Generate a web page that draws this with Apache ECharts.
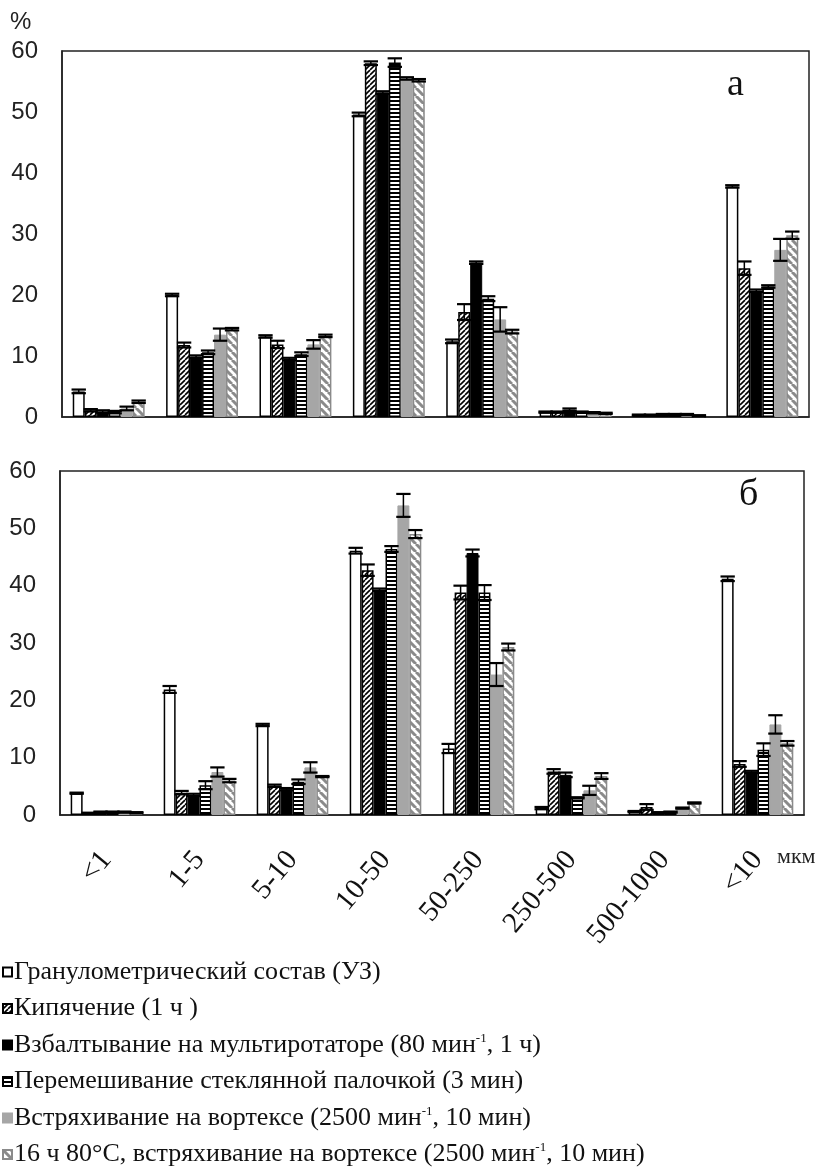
<!DOCTYPE html>
<html><head><meta charset="utf-8">
<script src="https://cdn.jsdelivr.net/npm/echarts@6/dist/echarts.min.js"></script>
<style>html,body{margin:0;padding:0;background:#fff}#c{width:823px;height:1176px}</style>
</head><body><div id="c"></div>
<script>
// ---------- data ----------
const categories = ['<1', '1-5', '5-10', '10-50', '50-250', '250-500', '500-1000', '<10'];
const seriesNames = [
  'Гранулометрический состав (УЗ)',
  'Кипячение (1 ч )',
  'Взбалтывание на мультиротаторе (80 мин⁻¹, 1 ч)',
  'Перемешивание стеклянной палочкой (3 мин)',
  'Встряхивание на вортексе (2500 мин⁻¹, 10 мин)',
  '16 ч 80°C, встряхивание на вортексе (2500 мин⁻¹, 10 мин)'
];
const yTicks = [0, 10, 20, 30, 40, 50, 60];

// panel а
const a1 = [4.2, 20.0, 13.2, 49.6, 12.4, 0.8, 0.3, 37.8];
const a2 = [1.1, 11.8, 11.9, 58.0, 17.2, 0.8, 0.3, 24.4];
const a3 = [0.9, 9.9, 9.5, 53.2, 25.3, 1.2, 0.4, 20.7];
const a4 = [0.8, 10.6, 10.3, 58.1, 19.4, 0.8, 0.4, 21.4];
const a5 = [1.4, 13.5, 11.9, 55.5, 16.0, 0.7, 0.4, 27.4];
const a6 = [2.5, 14.4, 13.3, 55.2, 14.0, 0.6, 0.2, 29.8];
const ea1 = [0.3, 0.2, 0.2, 0.3, 0.3, 0.1, 0.1, 0.2];
const ea2 = [0.2, 0.4, 0.6, 0.3, 1.3, 0.1, 0.1, 1.1];
const ea3 = [0.2, 0.2, 0.2, 0.2, 0.2, 0.2, 0.1, 0.2];
const ea4 = [0.2, 0.3, 0.3, 0.7, 0.4, 0.1, 0.1, 0.2];
const ea5 = [0.3, 1.0, 0.7, 0.2, 2.0, 0.1, 0.1, 1.8];
const ea6 = [0.2, 0.2, 0.2, 0.2, 0.3, 0.1, 0.1, 0.6];

// panel б
const b1 = [3.8, 21.9, 15.7, 46.1, 11.6, 1.2, 0.6, 41.2];
const b2 = [0.3, 3.9, 5.1, 42.7, 38.8, 7.6, 1.4, 8.9];
const b3 = [0.5, 3.5, 4.5, 39.3, 45.7, 7.0, 0.4, 7.5];
const b4 = [0.5, 5.2, 5.8, 46.4, 38.8, 3.0, 0.5, 11.4];
const b5 = [0.5, 7.5, 8.3, 54.0, 24.5, 4.3, 1.2, 15.8];
const b6 = [0.4, 6.0, 6.7, 49.0, 29.3, 6.8, 2.1, 12.5];
const eb1 = [0.1, 0.6, 0.2, 0.5, 0.8, 0.2, 0.1, 0.4];
const eb2 = [0.1, 0.3, 0.2, 1.0, 1.2, 0.4, 0.5, 0.5];
const eb3 = [0.1, 0.2, 0.2, 0.2, 0.6, 0.4, 0.1, 0.2];
const eb4 = [0.1, 0.7, 0.4, 0.5, 1.3, 0.1, 0.1, 1.1];
const eb5 = [0.1, 0.8, 0.9, 2.0, 2.0, 0.8, 0.1, 1.6];
const eb6 = [0.1, 0.3, 0.1, 0.7, 0.6, 0.5, 0.1, 0.4];

const panelAVals = [a1, a2, a3, a4, a5, a6];
const panelAErr = [ea1, ea2, ea3, ea4, ea5, ea6];
const panelBVals = [b1, b2, b3, b4, b5, b6];
const panelBErr = [eb1, eb2, eb3, eb4, eb5, eb6];

// ---------- patterns ----------
function diagPattern(size, color, lw, dir) {
  const c = document.createElement('canvas');
  c.width = size; c.height = size;
  const g = c.getContext('2d');
  g.fillStyle = '#fff'; g.fillRect(0, 0, size, size);
  g.strokeStyle = color; g.lineWidth = lw;
  for (let k = -1; k <= 1; k++) {
    g.beginPath();
    if (dir === '/') { g.moveTo(k * size, size); g.lineTo(k * size + size, 0); }
    else { g.moveTo(k * size, 0); g.lineTo(k * size + size, size); }
    g.stroke();
  }
  return { image: c, repeat: 'repeat' };
}
function hStripePattern() {
  const c = document.createElement('canvas');
  c.width = 4; c.height = 4;
  const g = c.getContext('2d');
  g.fillStyle = '#fff'; g.fillRect(0, 0, 4, 4);
  g.fillStyle = '#000'; g.fillRect(0, 0, 4, 2);
  return { image: c, repeat: 'repeat' };
}

const styles = [
  { color: '#ffffff', borderColor: '#000', borderWidth: 1.5 },
  { color: diagPattern(5, '#000', 1.6, '/'), borderColor: '#000', borderWidth: 1.5 },
  { color: '#000000', borderColor: '#000', borderWidth: 1 },
  { color: hStripePattern(), borderColor: '#000', borderWidth: 1.5 },
  { color: '#a6a6a6', borderColor: '#a6a6a6', borderWidth: 1 },
  { color: diagPattern(8, '#8a8a8a', 3, '\\'), borderColor: '#8a8a8a', borderWidth: 1.5 }
];

const CAT_GAP = 0.23;

function errRender(params, api) {
  const cat = api.value(0), si = api.value(1), v = api.value(2), e = api.value(3);
  const catW = api.size([1, 0])[0];
  const bw = catW * (1 - CAT_GAP) / 6;
  const cx = api.coord([cat, v])[0] + (si - 2.5) * bw;
  const yTop = api.coord([cat, v + e])[1];
  const yBot = api.coord([cat, Math.max(0, v - e)])[1];
  const half = bw * 0.6;
  const st = { stroke: '#000', lineWidth: 2.2 };
  return {
    type: 'group', children: [
      { type: 'line', shape: { x1: cx, y1: yTop, x2: cx, y2: yBot }, style: { stroke: '#000', lineWidth: 1.5 } },
      { type: 'line', shape: { x1: cx - half, y1: yTop, x2: cx + half, y2: yTop }, style: st },
      { type: 'line', shape: { x1: cx - half, y1: yBot, x2: cx + half, y2: yBot }, style: st }
    ]
  };
}

function errData(vals, errs) {
  const out = [];
  vals.forEach((arr, si) => arr.forEach((v, ci) => out.push([ci, si, v, errs[si][ci]])));
  return out;
}

const series = [];
[panelAVals, panelBVals].forEach((vals, pi) => {
  vals.forEach((arr, si) => {
    series.push({
      type: 'bar', name: seriesNames[si], xAxisIndex: pi, yAxisIndex: pi,
      data: arr, barGap: '0%', barCategoryGap: (CAT_GAP * 100) + '%',
      itemStyle: styles[si], silent: true, animation: false
    });
  });
  series.push({
    type: 'custom', xAxisIndex: pi, yAxisIndex: pi, renderItem: errRender,
    data: errData(vals, pi === 0 ? panelAErr : panelBErr),
    encode: { x: 0, y: 2 }, silent: true, animation: false, z: 5
  });
});

const yLabel = {
  fontFamily: 'Liberation Sans', fontSize: 24, color: '#222', margin: 24,
  formatter: v => (yTicks.indexOf(v) >= 0 ? String(v) : '')
};
function yAx(i) {
  return {
    gridIndex: i, type: 'value', min: 0, max: 60, interval: 10,
    splitLine: { show: false }, axisTick: { show: false },
    axisLine: { show: true, lineStyle: { color: '#222', width: 1.5 } },
    axisLabel: yLabel
  };
}

const chart = echarts.init(document.getElementById('c'), null, { renderer: 'canvas' });
chart.setOption({
  animation: false,
  backgroundColor: '#fff',
  grid: [
    { left: 62, top: 51, width: 747, height: 366, show: true, borderColor: '#222', borderWidth: 1.5 },
    { left: 60, top: 471, width: 744, height: 344, show: true, borderColor: '#222', borderWidth: 1.5 }
  ],
  xAxis: [
    { gridIndex: 0, type: 'category', data: categories, axisTick: { show: false },
      axisLabel: { show: false }, axisLine: { lineStyle: { color: '#222', width: 1.5 } } },
    { gridIndex: 1, type: 'category', data: categories, axisTick: { show: false },
      axisLine: { lineStyle: { color: '#222', width: 1.5 } },
      axisLabel: { interval: 0, rotate: 50, margin: 40, fontFamily: 'Liberation Serif', fontSize: 29, color: '#111' } }
  ],
  yAxis: [yAx(0), yAx(1)],
  legend: {
    orient: 'vertical', left: -3, top: 954, itemGap: 10.5, itemWidth: 9, itemHeight: 9, icon: 'rect',
    data: seriesNames, selectedMode: false,
    textStyle: {
      fontFamily: 'Liberation Serif', fontSize: 26, color: '#111', padding: [0, 0, 0, -3],
      rich: { sup: { fontFamily: 'Liberation Serif', fontSize: 13, color: '#111', verticalAlign: 'top', lineHeight: 26 } }
    },
    formatter: n => n.replace('⁻¹', '{sup|-1}')
  },
  graphic: [
    { type: 'text', left: 10, top: 10, style: { text: '%', font: '24px "Liberation Sans"', fill: '#222' } },
    { type: 'text', left: 727, top: 66, style: { text: 'а', font: '38px "Liberation Serif"', fill: '#111' } },
    { type: 'text', left: 739, top: 476, style: { text: 'б', font: '38px "Liberation Serif"', fill: '#111' } },
    { type: 'text', left: 777, top: 846, style: { text: 'мкм', font: '22px "Liberation Serif"', fill: '#222' } }
  ],
  series: series
});
</script></body></html>
